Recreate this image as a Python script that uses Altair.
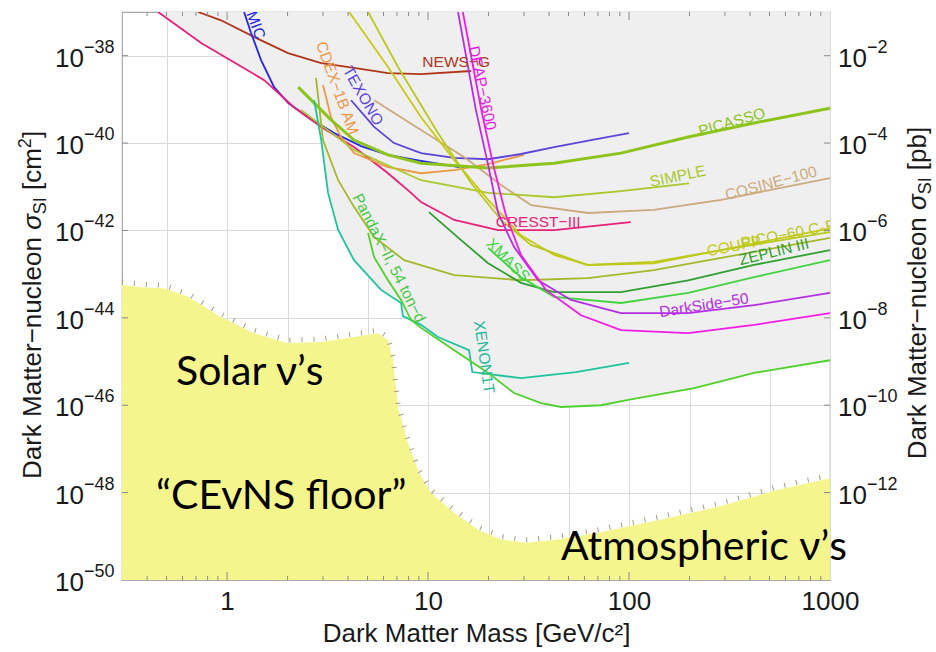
import altair as alt
import pandas as pd

W, H = 708, 568
PAD = {"left": 122, "top": 12, "right": 106, "bottom": 72}
FONT = "Liberation Sans"
BIG_FONT = "Lato"
INK = "#1a1a1a"

# ---------------- axis values ----------------
x_grid_values = [0.5, 1, 2, 5, 10, 20, 50, 100, 200, 500, 1000]
x_label_values = [1, 10, 100, 1000]
x_major_ticks = [1, 10, 100]
x_minor_ticks = [0.4, 0.5, 0.6, 0.7, 0.8, 0.9, 2, 3, 4, 5, 6, 7, 8, 9,
                 20, 30, 40, 50, 60, 70, 80, 90, 200, 300, 400, 500, 600, 700, 800, 900]
y_values = [1e-50, 1e-48, 1e-46, 1e-44, 1e-42, 1e-40, 1e-38]
left_exponents = ["−50", "−48", "−46", "−44", "−42", "−40", "−38"]
right_values = [1e-48, 1e-46, 1e-44, 1e-42, 1e-40, 1e-38]
right_exponents = ["−12", "−10", "−8", "−6", "−4", "−2"]

# ---------------- limit curves: mass [GeV/c^2], log10 sigma [cm^2] ----------------
newsg_mass = [0.717, 0.933, 1.36, 2.01, 2.94, 4.28, 6.32, 9.23, 16.4]
newsg_logs = [-37.0, -37.19, -37.57, -37.94, -38.17, -38.28, -38.40, -38.42, -38.35]

damic_mass = [1.215, 1.316, 1.476, 1.714, 2.01, 2.53, 3.41, 4.64, 6.32, 9.23, 15.1]
damic_logs = [-37.0, -37.48, -38.10, -38.72, -39.08, -39.41, -39.77, -40.07, -40.27, -40.41, -40.57]

cresst_mass = [0.454, 0.743, 1.53, 2.15, 2.94, 4.28, 6.32, 8.23, 9.23, 13.5, 22.3, 42.4, 102]
cresst_logs = [-37.0, -37.71, -38.56, -39.18, -39.63, -40.09, -40.69, -41.14, -41.35, -41.76, -41.99, -41.99, -41.81]

cdex_mass = [3.0, 3.29, 3.69, 4.28, 6.32, 9.23, 13.5, 19.9, 30.0]
cdex_logs = [-38.67, -39.41, -39.86, -40.23, -40.55, -40.69, -40.62, -40.48, -40.27]

texono_mass = [4.14, 5.39, 6.77, 9.23, 13.5, 19.9, 29.0, 42.4, 64.7, 100]
texono_logs = [-39.02, -39.63, -40.0, -40.23, -40.34, -40.37, -40.25, -40.09, -39.93, -39.77]

picasso_mass = [2.26, 3.29, 4.28, 6.32, 9.23, 19.9, 42.4, 91.2, 197, 419, 1000]
picasso_logs = [-38.72, -39.47, -39.93, -40.27, -40.46, -40.57, -40.46, -40.23, -39.86, -39.54, -39.20]

simple_mass = [2.33, 4.28, 9.23, 19.9, 42.4, 91.2, 199]
simple_logs = [-39.24, -40.16, -40.85, -41.14, -41.24, -41.10, -40.92]

cosine_mass = [5.39, 9.23, 15.1, 23.1, 32.5, 62.5, 133, 287, 1000]
cosine_logs = [-39.02, -39.70, -40.32, -40.96, -41.42, -41.60, -41.53, -41.30, -40.80]

coupp_mass = [4.05, 6.32, 9.23, 13.5, 19.9, 29.0, 42.4, 62.5, 133, 287, 1000]
coupp_logs = [-37.0, -38.26, -39.41, -40.39, -41.30, -42.11, -42.56, -42.79, -42.75, -42.45, -41.95]

pico_mass = [5.03, 7.09, 11.2, 16.4, 23.1, 32.5, 62.5, 133, 287, 1000]
pico_logs = [-37.0, -38.26, -39.77, -40.92, -41.76, -42.33, -42.79, -42.72, -42.45, -42.04]

olive_mass = [2.77, 3.0, 3.57, 4.28, 5.39, 7.6, 13.5, 29.0, 62.5, 133, 287, 1000]
olive_logs = [-38.51, -39.93, -40.85, -41.46, -42.15, -42.68, -43.02, -43.14, -43.09, -42.91, -42.63, -42.17]

zeplin_mass = [10.1, 14.6, 19.9, 29.0, 42.4, 91.2, 197, 419, 1000]
zeplin_logs = [-41.58, -42.22, -42.75, -43.20, -43.41, -43.41, -43.14, -42.79, -42.45]

xmass_mass = [19.9, 29.0, 42.4, 91.2, 197, 419, 1000]
xmass_logs = [-42.40, -43.07, -43.52, -43.66, -43.43, -43.07, -42.68]

darkside_mass = [14.1, 17.3, 19.9, 22.3, 26.8, 35.3, 51.4, 91.2, 197, 419, 1000]
darkside_logs = [-37.0, -39.24, -40.50, -41.60, -42.38, -43.14, -43.59, -43.89, -43.89, -43.71, -43.43]

deap_mass = [14.9, 18.4, 21.1, 24.4, 29.0, 38.6, 57.7, 91.2, 197, 419, 1000]
deap_logs = [-37.0, -39.24, -40.50, -41.65, -42.56, -43.36, -43.94, -44.28, -44.35, -44.16, -43.89]

xenon_mass = [2.71, 2.94, 3.18, 3.57, 4.28, 5.84, 7.34, 7.5, 9.23, 11.2, 16.0, 16.6, 29.0, 54.5, 100]
xenon_logs = [-39.02, -39.93, -41.14, -41.99, -42.68, -43.36, -43.66, -43.96, -44.16, -44.44, -44.74, -45.24, -45.38, -45.24, -45.03]

pandax_mass = [5.03, 5.39, 6.32, 7.34, 8.23, 9.23, 13.5, 19.9, 26.8, 36.5, 45.9, 72.6, 98.9, 211, 419, 1000]
pandax_logs = [-42.06, -42.61, -43.14, -43.59, -44.05, -44.23, -44.74, -45.26, -45.72, -45.95, -46.04, -46.00, -45.88, -45.61, -45.26, -44.97]

# excluded (grey) region lower boundary
excl_mass = [0.454, 0.743, 1.53, 2.15, 2.87, 3.0, 3.18, 3.57, 4.28, 5.84, 7.34, 8.23, 9.23, 13.5,
             19.9, 26.8, 36.5, 45.9, 72.6, 98.9, 211, 419, 1000]
excl_logs = [-37.0, -37.71, -38.56, -39.18, -39.61, -40.16, -41.14, -41.99, -42.68, -43.36, -43.66,
             -44.05, -44.23, -44.74, -45.26, -45.72, -45.95, -46.04, -46.00, -45.88, -45.61, -45.26, -44.97]

# neutrino (CEvNS) floor
floor_mass = [0.3, 0.373, 0.486, 0.640, 0.934, 1.36, 2.01, 2.94, 4.28, 5.64, 6.32, 6.70, 6.85, 7.09,
              7.86, 9.02, 10.35, 13.6, 17.9, 23.4, 30.7, 43.3, 70.1, 139, 274, 545, 1000]
floor_logs = [-43.25, -43.30, -43.32, -43.52, -43.98, -44.35, -44.58, -44.55, -44.44, -44.35, -44.51,
              -44.97, -45.42, -46.04, -46.80, -47.55, -48.01, -48.47, -48.86, -49.08, -49.15, -49.08,
              -48.92, -48.63, -48.33, -47.94, -47.67]

curve_specs = [
    ("NEWS−G", newsg_mass, newsg_logs, "#b0361a", 1.8),
    ("DAMIC", damic_mass, damic_logs, "#2626e6", 1.8),
    ("CRESST−III", cresst_mass, cresst_logs, "#ea1f78", 1.8),
    ("CDEX−1B AM", cdex_mass, cdex_logs, "#eb9845", 1.8),
    ("TEXONO", texono_mass, texono_logs, "#5b45d9", 1.8),
    ("COSINE−100", cosine_mass, cosine_logs, "#cbab7e", 1.8),
    ("SIMPLE", simple_mass, simple_logs, "#a9c92a", 1.8),
    ("COUPP", coupp_mass, coupp_logs, "#c9c914", 1.8),
    ("PICO−60", pico_mass, pico_logs, "#b9c91e", 1.8),
    ("olive", olive_mass, olive_logs, "#a6b82a", 1.8),
    ("PICASSO", picasso_mass, picasso_logs, "#8cc41c", 3.0),
    ("ZEPLIN III", zeplin_mass, zeplin_logs, "#2f9f2f", 1.8),
    ("XMASS", xmass_mass, xmass_logs, "#3fd43f", 1.8),
    ("DarkSide−50", darkside_mass, darkside_logs, "#b52ee6", 1.8),
    ("DEAP−3600", deap_mass, deap_logs, "#f21be6", 1.8),
    ("XENON1T", xenon_mass, xenon_logs, "#1fc49e", 1.8),
    ("PandaX−II", pandax_mass, pandax_logs, "#4fd12b", 1.8),
]

# curve labels (the DAMIC label shows only its visible tail "MIC" at the top edge)
label_text = ["MIC", "NEWS−G", "DEAP−3600", "CDEX−1B AM", "TEXONO", "PICASSO", "SIMPLE",
              "COSINE−100", "CRESST−III", "COUPP", "PICO−60 C₃F₈", "ZEPLIN III", "DarkSide−50",
              "XMASS", "PandaX−II, 54 ton−d", "XENON1T"]
label_mass = [1.39, 13.8, 18.6, 3.53, 4.75, 325, 175, 509, 35.3, 333, 640, 526, 236, 25.0, 6.40, 19.0]
label_logs = [-37.30, -38.15, -38.74, -38.74, -38.92, -39.52, -40.76, -40.92, -41.81, -42.36, -42.07,
              -42.49, -43.71, -42.68, -42.63, -44.90]
label_angle = [70, 0, 78, 70, 60, 344, 348, 345, 0, 349, 349, 346, 351, 45, 63, 82]
label_color = ["#2626e6", "#b0361a", "#e21be0", "#eb9845", "#5b45d9", "#8cc41c", "#a9c92a",
               "#cbab7e", "#ea1f78", "#c9c914", "#b9c91e", "#2f9f2f", "#b52ee6", "#3fd43f",
               "#45c845", "#1fb898"]

# big annotations
ann_text = ["Solar ν’s", "“CEvNS floor”", "Atmospheric ν’s"]
ann_mass = [0.557, 0.443, 45.9]
ann_logs = [-45.26, -48.10, -49.27]

# ---------------- frames ----------------
def frame(mass, logs):
    return pd.DataFrame({"mass": mass, "sigma": [10.0 ** v for v in logs]})

rows = []
for name, ms, ls, col, w in curve_specs:
    for i, (m, l) in enumerate(zip(ms, ls)):
        rows.append({"name": name, "mass": m, "sigma": 10.0 ** l, "i": i, "w": w})
curves_df = pd.DataFrame(rows)

excl_df = frame(excl_mass, excl_logs).assign(top=1e-37)
floor_df = frame(floor_mass, floor_logs).assign(bottom=1e-50)
labels_df = frame(label_mass, label_logs).assign(text=label_text, angle=label_angle, color=label_color)
ann_df = frame(ann_mass, ann_logs).assign(text=ann_text)

x_scale = alt.Scale(type="log", domain=[0.3, 1000], nice=False)
y_scale = alt.Scale(type="log", domain=[1e-50, 1e-37], nice=False)

x_axis = alt.Axis(
    values=x_grid_values,
    labelExpr="indexof([1, 10, 100, 1000], datum.value) >= 0 ? format(datum.value, 'd') : ''",
    labelFont=FONT, labelFontSize=26, labelColor=INK, labelPadding=8, labelFlush=False,
    labelOverlap=False, ticks=False, domain=False,
    grid=True, gridColor="#dadada", gridWidth=1,
    title="Dark Matter Mass [GeV/c²]", titleFont=FONT, titleFontSize=26,
    titleFontWeight="normal", titleColor=INK, titlePadding=6,
)
y_axis = alt.Axis(values=y_values[1:], labels=False, ticks=False, domain=False, title=None,
                  grid=True, gridColor="#dadada", gridWidth=1)

X = alt.X("mass:Q", scale=x_scale, axis=x_axis)
Y = alt.Y("sigma:Q", scale=y_scale, axis=y_axis)

layers = []
layers.append(alt.Chart(excl_df).mark_area(color="#efefef").encode(x=X, y=Y, y2="top:Q"))
layers.append(alt.Chart(floor_df).mark_area(color="#f5f58e").encode(x=X, y=Y, y2="bottom:Q"))
layers.append(alt.Chart(floor_df).mark_line(color="#a39c7c", strokeWidth=5, strokeDash=[1, 11],
                                            yOffset=-3, clip=True).encode(x=X, y=Y))
layers.append(
    alt.Chart(curves_df).mark_line(clip=True).encode(
        x=X, y=Y,
        color=alt.Color("name:N", legend=None,
                        scale=alt.Scale(domain=[c[0] for c in curve_specs],
                                        range=[c[3] for c in curve_specs])),
        strokeWidth=alt.StrokeWidth("w:Q", scale=None),
        order="i:Q",
    )
)
layers.append(
    alt.Chart(labels_df).mark_text(font=FONT, fontSize=15.5, clip=True).encode(
        x=X, y=Y, text="text:N",
        angle=alt.Angle("angle:Q", scale=None),
        color=alt.Color("color:N", scale=None),
    )
)
layers.append(
    alt.Chart(ann_df).mark_text(font=BIG_FONT, fontSize=41, align="left", baseline="middle",
                                color="#000000").encode(x=X, y=Y, text="text:N")
)

# inward ticks on the frame
maj_df = pd.DataFrame({"mass": x_major_ticks})
min_df = pd.DataFrame({"mass": x_minor_ticks})
tick_col = "#8a8a8a"
layers.append(alt.Chart(maj_df).mark_rule(color=tick_col).encode(x=X, y=alt.value(H), y2=alt.value(H - 8)))
layers.append(alt.Chart(min_df).mark_rule(color=tick_col).encode(x=X, y=alt.value(H), y2=alt.value(H - 4)))
layers.append(alt.Chart(maj_df).mark_rule(color=tick_col).encode(x=X, y=alt.value(0), y2=alt.value(8)))
layers.append(alt.Chart(min_df).mark_rule(color=tick_col).encode(x=X, y=alt.value(0), y2=alt.value(4)))
yt_df = pd.DataFrame({"sigma": y_values[1:]})
layers.append(alt.Chart(yt_df).mark_rule(color=tick_col).encode(y=Y, x=alt.value(0), x2=alt.value(6)))
layers.append(alt.Chart(yt_df).mark_rule(color=tick_col).encode(y=Y, x=alt.value(W), x2=alt.value(W - 6)))

# y tick labels: 10 with superscript exponent
left_df = pd.DataFrame({"sigma": y_values, "base": ["10"] * len(y_values), "exp": left_exponents})
right_df = pd.DataFrame({"sigma": right_values, "base": ["10"] * len(right_values), "exp": right_exponents})
for df, x0 in [(left_df, -67), (right_df, W + 8)]:
    layers.append(alt.Chart(df).mark_text(font=FONT, fontSize=26, align="left", baseline="middle",
                                          dy=3, color=INK).encode(x=alt.value(x0), y=Y, text="base:N"))
    layers.append(alt.Chart(df).mark_text(font=FONT, fontSize=18, align="left", baseline="middle",
                                          dy=-8, color=INK).encode(x=alt.value(x0 + 29), y=Y, text="exp:N"))

# vertical titles built from pieces (subscript / superscript)
ARIAL = {" ": .278, "D": .722, "a": .556, "r": .333, "k": .5, "M": .833, "t": .278, "e": .556,
         "−": .584, "n": .556, "u": .556, "c": .5, "l": .222, "o": .556, "σ": .6, "S": .667,
         "I": .278, "[": .278, "m": .833, "]": .278, "2": .556, "p": .556, "b": .556}

def tw(s, size):
    return sum(ARIAL.get(ch, .556) for ch in s) * size

def vertical_title(pieces, x_base, y_center):
    total = sum(tw(t, fs) for t, fs, dx, st in pieces)
    y = y_center + total / 2
    out = []
    for t, fs, dx, st in pieces:
        core = t.strip(" ")
        lead = len(t) - len(t.lstrip(" "))
        trail = len(t) - len(t.rstrip(" "))
        y -= tw(" " * lead, fs)
        out.append(alt.Chart(pd.DataFrame({"t": [core]})).mark_text(
            font=FONT, fontSize=fs, fontStyle=st, angle=270, align="left",
            baseline="alphabetic", color=INK).encode(text="t:N", x=alt.value(x_base + dx), y=alt.value(y)))
        y -= tw(core, fs) + tw(" " * trail, fs)
    return out

left_title = [("Dark Matter−nucleon ", 26, 0, "normal"), ("σ", 26, 0, "italic"),
              ("SI", 18, 5, "normal"), (" [cm", 26, 0, "normal"), ("2", 18, -10, "normal"),
              ("]", 26, 0, "normal")]
right_title = [("Dark Matter−nucleon ", 26, 0, "normal"), ("σ", 26, 0, "italic"),
               ("SI", 18, 5, "normal"), (" [pb]", 26, 0, "normal")]
layers += vertical_title(left_title, -81, 293)
layers += vertical_title(right_title, W + 96, 281)

chart = alt.layer(*layers).properties(
    width=W, height=H, padding=PAD,
    autosize=alt.AutoSizeParams(type="none"),
    background="white",
).configure_view(stroke="#a8a8a8", strokeWidth=1.2)

chart.save("out.html", embed_options={"renderer": "svg", "actions": False})
